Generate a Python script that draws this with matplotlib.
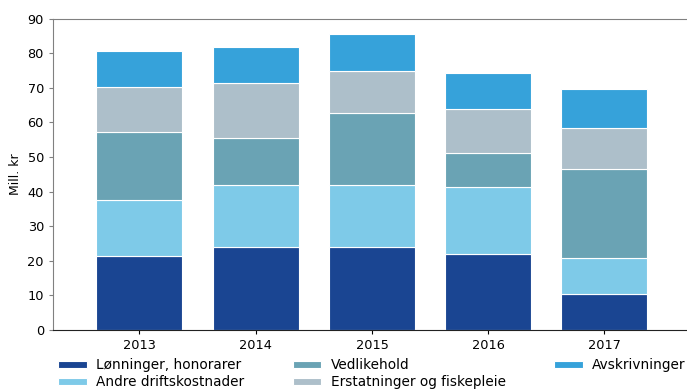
import numpy as np
import matplotlib.pyplot as plt

# Data (Mill. kr)
years = ["2013", "2014", "2015", "2016", "2017"]
lonninger = [21.5, 23.9, 24.1, 22.1, 10.5]
andre_drift = [16.0, 18.0, 17.7, 19.1, 10.2]
vedlikehold = [19.7, 13.6, 20.9, 10.0, 25.8]
erstatninger = [13.0, 16.0, 12.0, 12.7, 11.9]
avskrivninger = [10.3, 10.3, 10.9, 10.4, 11.2]

series = [
    ("Lønninger, honorarer", lonninger, "#1a4592"),
    ("Andre driftskostnader", andre_drift, "#7ecae8"),
    ("Vedlikehold", vedlikehold, "#6aa3b4"),
    ("Erstatninger og fiskepleie", erstatninger, "#adbfca"),
    ("Avskrivninger", avskrivninger, "#36a2da"),
]

plt.rcParams["font.family"] = "DejaVu Sans"
fig = plt.figure(figsize=(6.87, 3.89), dpi=100)
ax = fig.add_axes([0.0771, 0.1517, 0.9229, 0.8007])

x = np.arange(len(years))
bottom = np.zeros(len(years))
handles = {}
for name, vals, col in series:
    bars = ax.bar(x, vals, 0.74, bottom=bottom, color=col,
                  edgecolor="white", linewidth=0.8, label=name)
    handles[name] = bars
    bottom += np.array(vals)

ax.set_xlim(-0.744, 4.71)
ax.set_ylim(0, 90)
ax.set_yticks(np.arange(0, 91, 10))
ax.set_xticks(x)
ax.set_xticklabels(years)
ax.set_ylabel("Mill. kr", fontsize=9, labelpad=4)
ax.tick_params(axis="both", labelsize=9.3)
ax.tick_params(axis="y", color="#808080", length=3)
ax.tick_params(axis="x", length=3)

ax.spines["right"].set_visible(False)
ax.spines["top"].set_color("#808080")
ax.spines["left"].set_color("#808080")
ax.spines["bottom"].set_color("#222222")

# Column-major ordering so the legend fills like the original
order = ["Lønninger, honorarer", "Andre driftskostnader", "Vedlikehold",
         "Erstatninger og fiskepleie", "Avskrivninger"]
fig.legend([handles[n] for n in order], order, ncol=3, loc="upper left",
           bbox_to_anchor=(0.0844, 0.079), frameon=False, fontsize=9.8,
           borderpad=0, borderaxespad=0, handlelength=2.1, handleheight=0.5,
           labelspacing=0.22, columnspacing=3.55, handletextpad=0.7)

fig.savefig("out.png", dpi=100)
